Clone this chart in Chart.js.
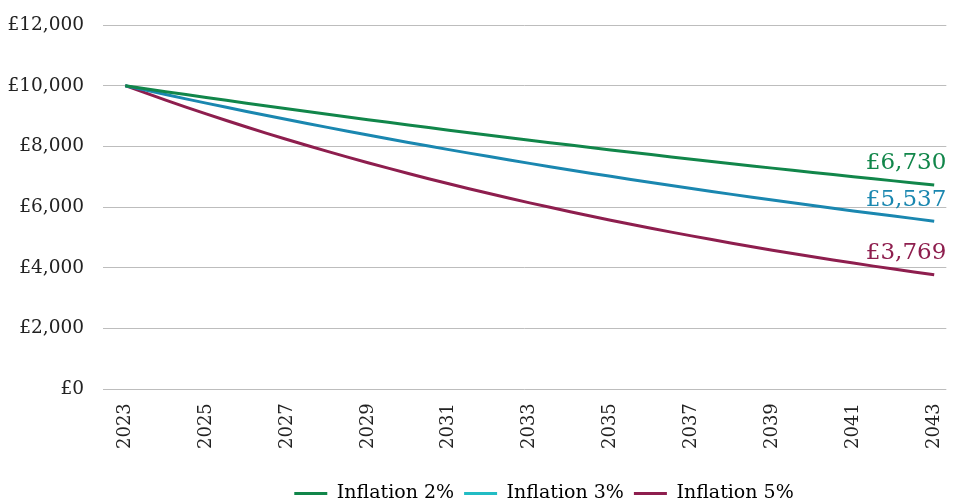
<!DOCTYPE html>
<html>
<head>
<meta charset="utf-8">
<script src="https://cdn.jsdelivr.net/npm/chart.js@4"></script>
<style>
  html, body { margin: 0; padding: 0; background: #fff; }
  #wrap { width: 962px; height: 504px; }
</style>
</head>
<body>
<div id="wrap"><canvas id="chart"></canvas></div>
<script>
const FONT = "'DejaVu Serif', serif";

const years = [2023, 2024, 2025, 2026, 2027, 2028, 2029, 2030, 2031, 2032, 2033,
  2034, 2035, 2036, 2037, 2038, 2039, 2040, 2041, 2042, 2043];
const tickYears = [2023, 2025, 2027, 2029, 2031, 2033, 2035, 2037, 2039, 2041, 2043];

// Kaufkraft von £10,000 je nach Inflationsrate
const inflation2 = [10000, 9804, 9612, 9423, 9238, 9057, 8880, 8706, 8535, 8368, 8203,
  8043, 7885, 7730, 7579, 7430, 7284, 7142, 7002, 6864, 6730];
const inflation3 = [10000, 9709, 9426, 9151, 8885, 8626, 8375, 8131, 7894, 7664, 7441,
  7224, 7014, 6810, 6611, 6419, 6232, 6050, 5874, 5703, 5537];
const inflation5 = [10000, 9524, 9070, 8638, 8227, 7835, 7462, 7107, 6768, 6446, 6139,
  5847, 5568, 5303, 5051, 4810, 4581, 4363, 4155, 3957, 3769];

const seriesNames = ['Inflation 2%', 'Inflation 3%', 'Inflation 5%'];
const lineColors = ['#11864a', '#1a87b0', '#8e1e4e'];
const legendColors = ['#11864a', '#22bcc4', '#8e1e4e'];
const endLabels = ['£6,730', '£5,537', '£3,769'];

const fmt = v => '£' + v.toLocaleString('en-GB');

// Endwerte rechts über dem letzten Punkt
const endLabelPlugin = {
  id: 'endLabels',
  afterDatasetsDraw(chart) {
    const ctx = chart.ctx;
    ctx.save();
    ctx.font = `23px ${FONT}`;
    ctx.textAlign = 'right';
    ctx.textBaseline = 'bottom';
    chart.data.datasets.forEach((ds, i) => {
      const meta = chart.getDatasetMeta(i);
      const last = meta.data[meta.data.length - 1];
      ctx.fillStyle = lineColors[i];
      ctx.fillText(endLabels[i], chart.chartArea.right, last.y - 10);
    });
    ctx.restore();
  },
};

// Legende etwas nach rechts/unten verschieben (wie im Original)
const legendShift = {
  id: 'legendShift',
  afterLayout(chart) {
    const lg = chart.legend;
    if (!lg) return;
    lg.left += 70;
    lg.right += 70;
    lg.top += 9;
    lg.bottom += 9;
  },
};

const datasets = [inflation2, inflation3, inflation5].map((vals, i) => ({
  label: seriesNames[i],
  data: vals.map((v, j) => ({ x: years[j], y: v })),
  borderColor: lineColors[i],
  backgroundColor: lineColors[i],
  borderWidth: 3,
  pointRadius: 0,
  tension: 0.2,
}));

new Chart(document.getElementById('chart'), {
  type: 'line',
  data: { datasets },
  options: {
    responsive: true,
    maintainAspectRatio: false,
    animation: false,
    layout: { padding: { top: 25, right: 14, left: 0, bottom: 0 } },
    scales: {
      x: {
        type: 'linear',
        min: 2022.45,
        max: 2043.3,
        afterBuildTicks: axis => { axis.ticks = tickYears.map(v => ({ value: v })); },
        afterFit: axis => { axis.height += 10; },
        grid: { display: false },
        border: { display: false },
        ticks: {
          color: '#222',
          font: { family: FONT, size: 18 },
          maxRotation: 90,
          minRotation: 90,
          padding: 6,
          callback: v => String(v),
        },
      },
      y: {
        min: 0,
        max: 12000,
        afterFit: axis => {
          axis.width = 103;
          axis.paddingTop = 0;
          axis.paddingBottom = 0;
        },
        grid: { color: '#bdbdbd', lineWidth: 1, drawTicks: false },
        border: { display: false },
        ticks: {
          stepSize: 2000,
          color: '#222',
          font: { family: FONT, size: 18.5 },
          padding: 19,
          callback: v => fmt(v),
        },
      },
    },
    plugins: {
      tooltip: { enabled: false },
      legend: {
        position: 'bottom',
        labels: {
          color: '#222',
          font: { family: FONT, size: 19 },
          boxWidth: 33,
          boxHeight: 3,
          padding: 10,
          generateLabels: chart => chart.data.datasets.map((ds, i) => ({
            text: ds.label,
            fillStyle: legendColors[i],
            strokeStyle: legendColors[i],
            lineWidth: 0,
            datasetIndex: i,
            hidden: false,
          })),
        },
      },
    },
  },
  plugins: [endLabelPlugin, legendShift],
});
</script>
</body>
</html>
